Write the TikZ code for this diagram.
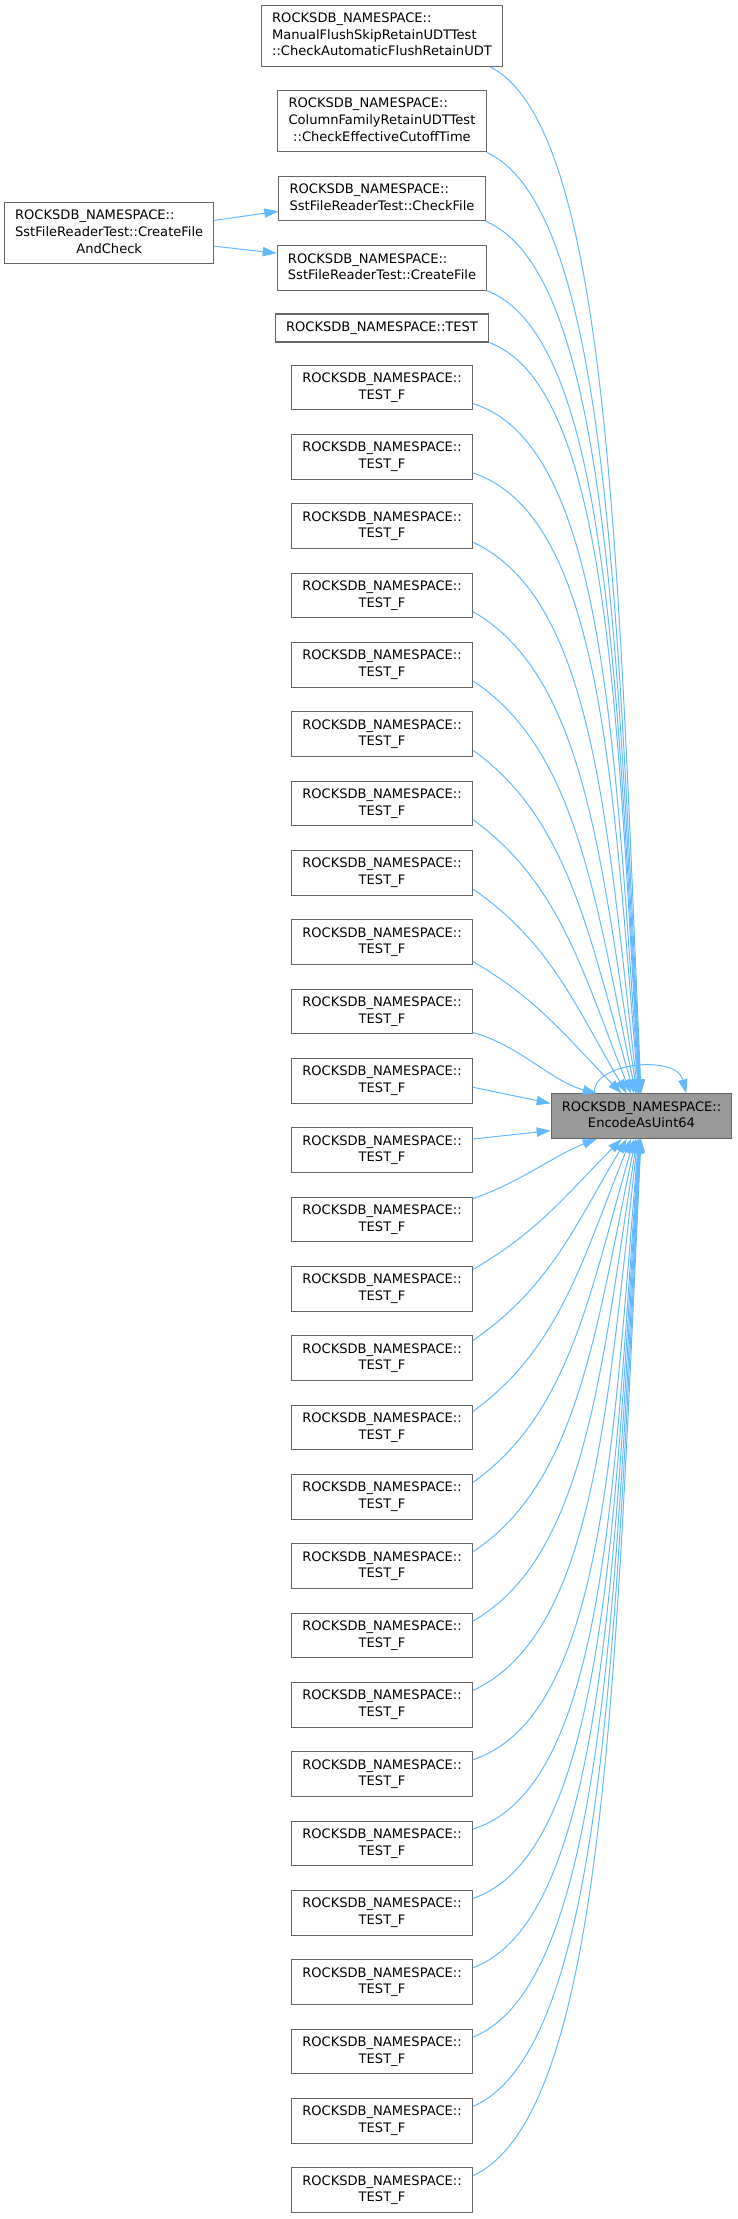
\documentclass[tikz,border=0pt]{standalone}
\usepackage{fontspec}
\setmainfont{DejaVu Sans}
\usetikzlibrary{arrows.meta,calc}

\definecolor{linkblue}{HTML}{63B8FF}
\definecolor{boxgray}{HTML}{666666}
\definecolor{selgray}{HTML}{999999}

\newcommand*{\rdbns}{ROCKSDB\_NAMESPACE::}
\newcommand*{\lbltwo}[2]{\begin{tabular}{@{}c@{}}\multicolumn{1}{@{}l@{}}{#1}\\#2\end{tabular}}
\newcommand*{\lblthree}[3]{\begin{tabular}{@{}c@{}}\multicolumn{1}{@{}l@{}}{#1}\\\multicolumn{1}{@{}l@{}}{#2}\\#3\end{tabular}}

\begin{document}
\begin{tikzpicture}
[
	x=0.75pt, y=-0.75pt,
	fn/.style={draw=boxgray, fill=white, line width=0.8pt, inner xsep=8pt, inner ysep=4.2pt, font=\fontsize{9.8}{12.5}\selectfont},
	fnsel/.style={fn, fill=selgray},
	link/.style={draw=linkblue, line width=0.75pt, -{Triangle[length=10.5pt,width=7pt]}},
	call/.style={link, to path={let \p1=(\tikztostart), \p2=(\tikztotarget), \n1={min(1,max(0,(abs(\y2-\y1)/(\x2-\x1)-0.87)/3))} in .. controls ($(\p1)+({(0.45+0.35*\n1)*(\x2-\x1)},{(0.3-0.24*\n1)*(\y2-\y1)})$) and ($(\p2)-({(0.37-0.22*\n1)*(\x2-\x1)},{(0.42+0.08*\n1)*(\y2-\y1)})$) .. (\tikztotarget)}}
]

	\useasboundingbox (0,0) rectangle (738,2219);

	% callers
	\node[fn] at (382,36) (flush) {\lblthree{\rdbns}{ManualFlushSkipRetainUDTTest}{::CheckAutomaticFlushRetainUDT}};
	\node[fn] at (382,121.3) (cutoff) {\lblthree{\rdbns}{ColumnFamilyRetainUDTTest}{::CheckEffectiveCutoffTime}};
	\node[fn] at (382,198.5) (checkfile) {\lbltwo{\rdbns}{SstFileReaderTest::CheckFile}};
	\node[fn] at (382,268) (createfile) {\lbltwo{\rdbns}{SstFileReaderTest::CreateFile}};
	\node[fn,minimum height=21pt] at (382,328) (test) {\rdbns TEST};
	\node[fn] at (109.2,233.3) (cfac) {\lblthree{\rdbns}{SstFileReaderTest::CreateFile}{AndCheck}};
	\foreach \k in {0,...,26}
		\node[fn] at (382,{387.55+69.33*\k}) (tf\k) {\lbltwo{\rdbns}{TEST\_F}};

	% callee
	\node[fnsel] at (641.5,1116.2) (enc) {\lbltwo{\rdbns}{EncodeAsUint64}};

	% calls
	\draw[link] (cfac.7) -- (checkfile.-173);
	\draw[link] (cfac.-7) -- (createfile.172);

	\foreach \src/\ang in {flush.-16/91, cutoff.south east/92, checkfile.south east/93, createfile.south east/94, test.south east/95, tf0.-10/96, tf1.-10/97, tf2.-10/99, tf3.-10/101, tf4.-10/104, tf5.-10/108, tf6.-10/115, tf7.-10/123, tf8.-12/131}
		\draw[call] (\src) to (enc.\ang);
	\foreach \src/\ang in {tf13.12/-131, tf14.11/-123, tf15.10/-115, tf16.9/-108, tf17.9/-104, tf18.9/-101, tf19.9/-99, tf20.9/-97, tf21.9/-96, tf22.9/-95, tf23.9/-94, tf24.9/-93, tf25.9/-92, tf26.9/-91}
		\draw[call] (\src) to (enc.\ang);

	\draw[link] (tf9.-13) .. controls +(45,12) and +(-45,-12) .. (enc.153);
	\draw[link] (tf10.-4) -- (enc.172);
	\draw[link] (tf11.7) -- (enc.-171);
	\draw[link] (tf12.13) .. controls +(45,-15) and +(-40,15) .. (enc.-153);

	% recursion
	\draw[link] (enc.154) .. controls +(-5,-30) and +(-10,-40) .. (enc.27);

\end{tikzpicture}
\end{document}
